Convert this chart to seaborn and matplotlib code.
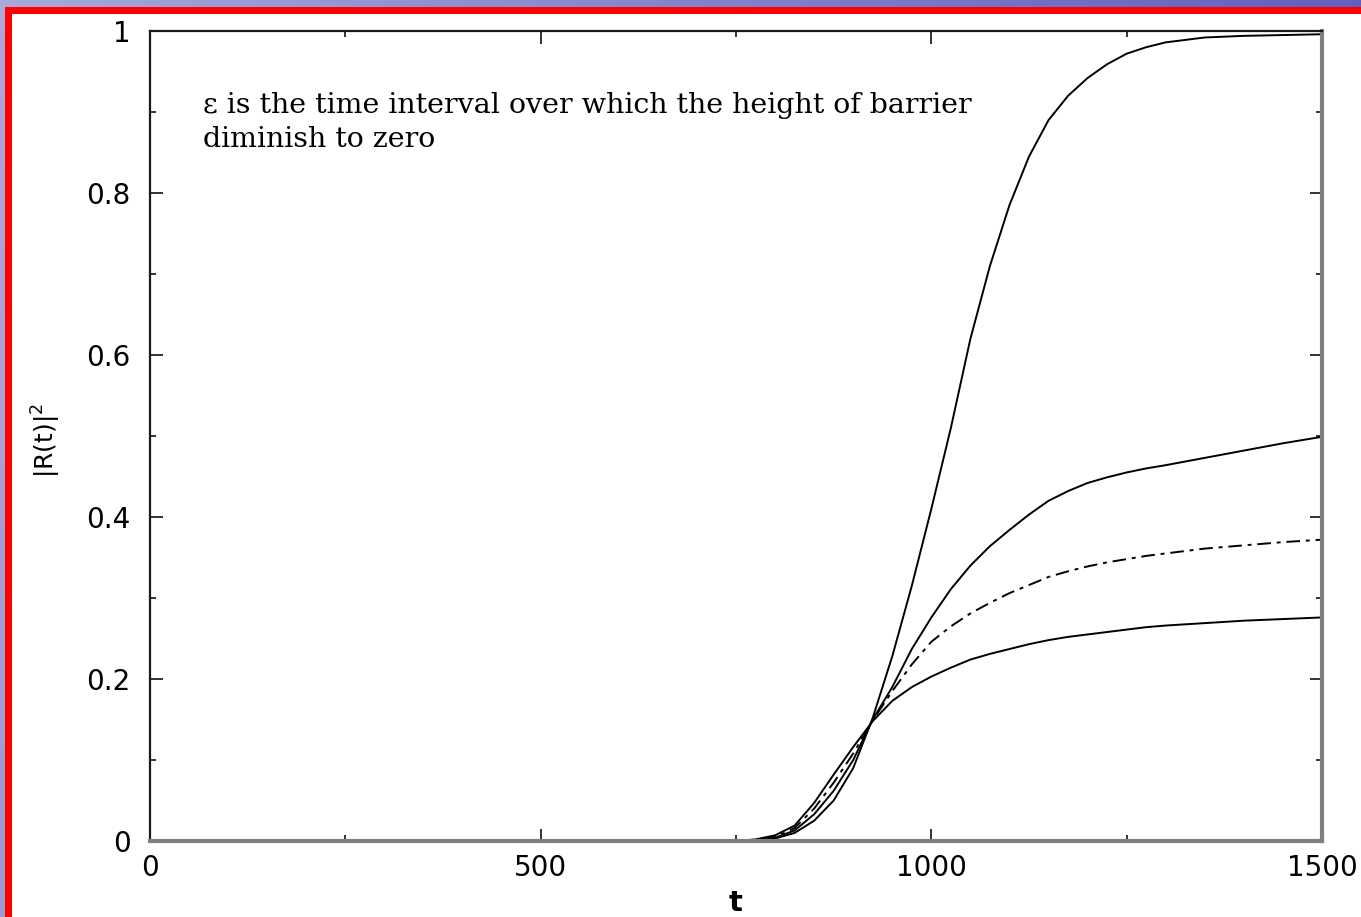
import numpy as np
import pandas as pd
import matplotlib
matplotlib.use("Agg")
import matplotlib.pyplot as plt
from matplotlib.patches import Rectangle
from matplotlib.ticker import MultipleLocator, FixedLocator
import seaborn as sns

# time samples
t = [0, 700, 750, 775, 800, 825, 850, 875, 900, 925, 950, 975, 1000, 1025,
     1050, 1075, 1100, 1125, 1150, 1175, 1200, 1225, 1250, 1275, 1300, 1350,
     1400, 1450, 1500]

# |R(t)|^2 for four barrier switch-off intervals
r_full = [0, 0, 0, 0.001, 0.003, 0.010, 0.025, 0.050, 0.090, 0.152, 0.228, 0.315,
          0.410, 0.510, 0.620, 0.710, 0.785, 0.845, 0.890, 0.920, 0.942, 0.959,
          0.972, 0.980, 0.986, 0.992, 0.994, 0.995, 0.996]
r_half = [0, 0, 0, 0.001, 0.004, 0.013, 0.033, 0.062, 0.100, 0.150, 0.190, 0.237,
          0.276, 0.311, 0.340, 0.364, 0.384, 0.403, 0.420, 0.432, 0.442, 0.449,
          0.455, 0.460, 0.464, 0.473, 0.482, 0.491, 0.499]
r_mid = [0, 0, 0, 0.001, 0.005, 0.016, 0.040, 0.072, 0.108, 0.149, 0.185, 0.218,
         0.246, 0.265, 0.281, 0.294, 0.306, 0.316, 0.326, 0.333, 0.339, 0.344,
         0.348, 0.352, 0.355, 0.361, 0.365, 0.369, 0.372]
r_low = [0, 0, 0, 0.002, 0.007, 0.019, 0.047, 0.082, 0.116, 0.148, 0.173, 0.190,
         0.203, 0.214, 0.224, 0.231, 0.237, 0.243, 0.248, 0.252, 0.255, 0.258,
         0.261, 0.264, 0.266, 0.269, 0.272, 0.274, 0.276]

x_ticks = [0, 500, 1000, 1500]
x_labels = ["0", "500", "1000", "1500"]
y_ticks = [0, 0.2, 0.4, 0.6, 0.8, 1.0]
y_labels = ["0", "0.2", "0.4", "0.6", "0.8", "1"]

note = "\u03b5 is the time interval over which the height of barrier\ndiminish to zero"

sns.set_style("ticks")
plt.rcParams["font.family"] = ["DejaVu Sans"]
plt.rcParams["text.color"] = "black"
plt.rcParams["axes.labelcolor"] = "black"
plt.rcParams["xtick.color"] = "black"
plt.rcParams["ytick.color"] = "black"

W, H = 1361, 917
fig = plt.figure(figsize=(W / 100, H / 100), dpi=100)

# slide background: blue gradient, red frame, white page
bg = fig.add_axes([0, 0, 1, 1], zorder=-10)
gx = np.linspace(0, 1, 256)[None, :]
gy = np.linspace(0, 1, 64)[:, None]
c_left = np.array([0.66, 0.66, 0.86])
c_right = np.array([0.33, 0.33, 0.72])
mix = np.clip(gx * 0.85 + gy * 0.15, 0, 1)[..., None]
grad = c_left * (1 - mix) + c_right * mix
bg.imshow(grad, aspect="auto", extent=[0, 1, 0, 1], origin="upper")
bg.add_patch(Rectangle((5 / W, 0), 1, 1 - 7 / H, color="#ff0000", lw=0))
bg.add_patch(Rectangle((12 / W, 0), 1, 1 - 14 / H, color="white", lw=0))
bg.set_xlim(0, 1)
bg.set_ylim(0, 1)
bg.axis("off")

ax = fig.add_axes([150 / W, 1 - 841 / H, 1172 / W, 810 / H])
ax.set_facecolor("white")

df = pd.DataFrame({"t": t, "full": r_full, "half": r_half, "mid": r_mid, "low": r_low})
styles = {"full": "-", "half": "-", "mid": (0, (7, 3, 2, 3)), "low": "-"}
for col, ls in styles.items():
    sns.lineplot(data=df, x="t", y=col, ax=ax, color="black", lw=1.4,
                 linestyle=ls, legend=False)

ax.set_xlim(0, 1500)
ax.set_ylim(0, 1)
ax.xaxis.set_major_locator(FixedLocator(x_ticks))
ax.set_xticklabels(x_labels)
ax.yaxis.set_major_locator(FixedLocator(y_ticks))
ax.set_yticklabels(y_labels)
ax.xaxis.set_minor_locator(MultipleLocator(250))
ax.yaxis.set_minor_locator(MultipleLocator(0.1))
ax.tick_params(which="both", direction="in", top=True, right=True, width=1.3,
               color="#222222", labelcolor="black")
ax.tick_params(which="major", length=9, labelsize=20)
ax.tick_params(which="minor", length=4)
ax.tick_params(axis="y", pad=14)
ax.tick_params(axis="x", pad=9)

for side in ("left", "top"):
    ax.spines[side].set_color("#1a1a1a")
    ax.spines[side].set_linewidth(1.6)
for side in ("right", "bottom"):
    ax.spines[side].set_color("#808080")
    ax.spines[side].set_linewidth(3)

ax.set_xlabel("t", fontsize=21, fontweight="bold")
ax.xaxis.set_label_coords(0.5, (841 - 889) / 810)
ax.xaxis.label.set_va("top")
ax.set_ylabel("|R(t)|$^2$", fontsize=18)
ax.yaxis.set_label_coords(-0.074, 0.495)

ax.text((203 - 150) / 1172, (841 - 92) / 810, note,
        transform=ax.transAxes, family="DejaVu Serif", fontsize=20.5,
        color="black", va="top", ha="left", linespacing=1.35)

fig.savefig("out.png", dpi=100, facecolor=fig.get_facecolor())
